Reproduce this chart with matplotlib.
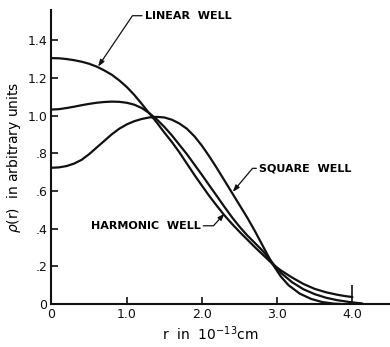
import matplotlib
matplotlib.use("Agg")
import matplotlib.pyplot as plt

# curves (r in 1e-13 cm, rho arbitrary)
r_linear = [0.0, 0.1, 0.2, 0.3, 0.4, 0.5, 0.6, 0.7, 0.8, 0.9, 1.0, 1.1, 1.2, 1.3, 1.4,
            1.5, 1.6, 1.7, 1.8, 1.9, 2.0, 2.1, 2.2, 2.3, 2.4, 2.5, 2.6, 2.7, 2.8, 2.9,
            2.95, 3.05, 3.2, 3.35, 3.5, 3.65, 3.8, 3.9, 4.0]
rho_linear = [1.305, 1.304, 1.300, 1.294, 1.286, 1.275, 1.260, 1.240, 1.217, 1.187, 1.152,
              1.110, 1.062, 1.012, 0.963, 0.910, 0.860, 0.805, 0.745, 0.685, 0.628, 0.572,
              0.520, 0.470, 0.425, 0.383, 0.343, 0.303, 0.265, 0.227, 0.208, 0.178, 0.140,
              0.106, 0.080, 0.062, 0.049, 0.042, 0.037]

r_harmonic = [0.0, 0.1, 0.2, 0.3, 0.4, 0.5, 0.6, 0.7, 0.8, 0.9, 1.0, 1.1, 1.2, 1.3, 1.4,
              1.5, 1.6, 1.7, 1.8, 1.9, 2.0, 2.1, 2.2, 2.3, 2.4, 2.5, 2.6, 2.7, 2.8, 2.9,
              2.95, 3.05, 3.2, 3.35, 3.5, 3.65, 3.8, 3.95, 4.05, 4.13]
rho_harmonic = [1.032, 1.034, 1.040, 1.047, 1.055, 1.062, 1.068, 1.072, 1.074, 1.073, 1.068,
                1.058, 1.040, 1.013, 0.980, 0.940, 0.895, 0.845, 0.795, 0.740, 0.685, 0.628,
                0.572, 0.515, 0.460, 0.410, 0.365, 0.325, 0.285, 0.238, 0.212, 0.165, 0.115,
                0.078, 0.052, 0.033, 0.020, 0.011, 0.006, 0.003]

r_square = [0.0, 0.1, 0.2, 0.3, 0.4, 0.5, 0.6, 0.7, 0.8, 0.9, 1.0, 1.1, 1.2, 1.3, 1.4,
            1.5, 1.6, 1.7, 1.8, 1.9, 2.0, 2.1, 2.2, 2.3, 2.4, 2.5, 2.6, 2.7, 2.8, 2.9,
            2.95, 3.05, 3.15, 3.3, 3.45, 3.6, 3.75, 3.85]
rho_square = [0.723, 0.725, 0.732, 0.745, 0.765, 0.795, 0.830, 0.865, 0.900, 0.930, 0.953,
              0.970, 0.982, 0.990, 0.993, 0.990, 0.978, 0.958, 0.930, 0.890, 0.840, 0.782,
              0.720, 0.655, 0.590, 0.525, 0.460, 0.390, 0.315, 0.240, 0.205, 0.145, 0.100,
              0.055, 0.027, 0.010, 0.002, 0.0]

xticks = [0, 1, 2, 3, 4]
xticklabels = ["0", "1.0", "2.0", "3.0", "4.0"]
yticks = [0, 0.2, 0.4, 0.6, 0.8, 1.0, 1.2, 1.4]
yticklabels = ["0", ".2", ".4", ".6", ".8", "1.0", "1.2", "1.4"]

fig = plt.figure(figsize=(3.9, 3.47), dpi=100)
ax = fig.add_axes([0.132, 0.124, 0.868, 0.847])

for r, rho in [(r_linear, rho_linear), (r_harmonic, rho_harmonic), (r_square, rho_square)]:
    ax.plot(r, rho, color="#111111", lw=1.6, solid_capstyle="round", solid_joinstyle="round")

ax.set_xlim(0, 4.5)
ax.set_ylim(0, 1.56)
ax.spines["top"].set_visible(False)
ax.spines["right"].set_visible(False)
for s in ["left", "bottom"]:
    ax.spines[s].set_linewidth(1.5)
    ax.spines[s].set_color("#111111")

ax.set_xticks(xticks)
ax.set_xticklabels(xticklabels)
ax.set_yticks(yticks)
ax.set_yticklabels(yticklabels)
ax.tick_params(direction="in", length=5, width=1.2, labelsize=9, pad=3, colors="#111111")
# the 4.0 tick is drawn taller in the original
ax.xaxis.get_major_ticks()[4].tick1line.set_markersize(14)

ax.set_xlabel(r"r  in  10$^{-13}$cm", fontsize=10)
ax.xaxis.set_label_coords(0.47, -0.07)
ax.set_ylabel(r"$\rho$(r)  in arbitrary units", fontsize=10)
ax.yaxis.set_label_coords(-0.085, 0.5)

arrow = dict(arrowstyle="-|>,head_length=0.5,head_width=0.18", color="#111111",
             lw=0.9, shrinkA=0, shrinkB=0)
lab = dict(fontsize=8, fontweight="bold", va="center")
ax.annotate("LINEAR  WELL", xy=(0.62, 1.26), xytext=(1.24, 1.53), ha="left", **lab,
            arrowprops=dict(arrow, relpos=(0, 0.5),
                            connectionstyle="angle,angleA=180,angleB=56,rad=0"))
ax.annotate("SQUARE  WELL", xy=(2.41, 0.595), xytext=(2.76, 0.72), ha="left", **lab,
            arrowprops=dict(arrow, relpos=(0, 0.5),
                            connectionstyle="angle,angleA=180,angleB=50,rad=0"))
ax.annotate("HARMONIC  WELL", xy=(2.30, 0.48), xytext=(1.98, 0.415), ha="right", **lab,
            arrowprops=dict(arrow, relpos=(1, 0.5),
                            connectionstyle="angle,angleA=0,angleB=48,rad=0"))

fig.savefig("out.png", dpi=100, facecolor="white")
